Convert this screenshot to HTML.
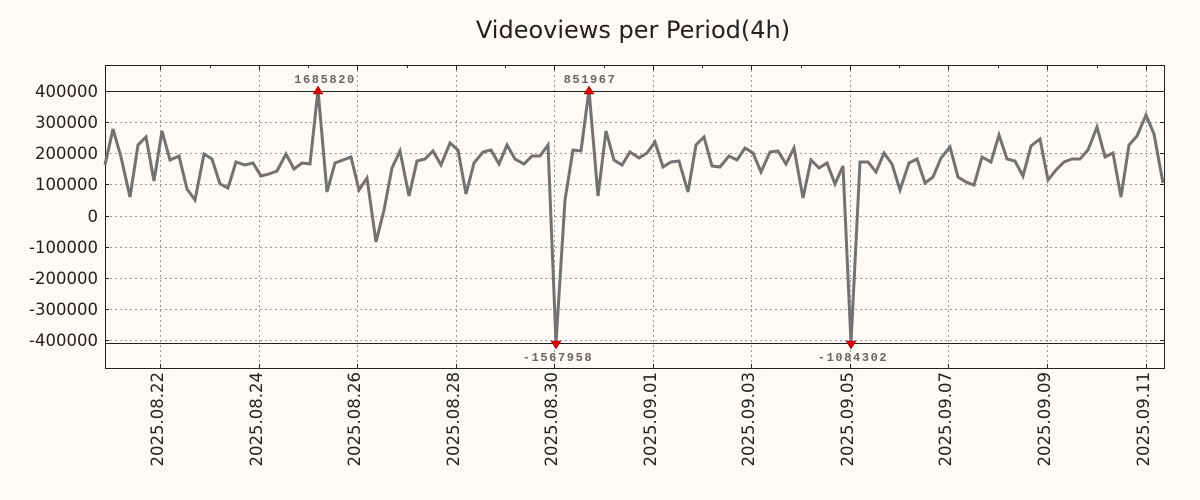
<!DOCTYPE html>
<html><head><meta charset="utf-8"><style>
body{margin:0;background:#fffaf5;}
svg{display:block;font-family:"DejaVu Sans","Liberation Sans",sans-serif;}
</style></head><body>
<svg width="1200" height="500" viewBox="0 0 1200 500">
<rect width="1200" height="500" fill="#fffaf5"/>
<text x="633" y="38" font-size="24" text-anchor="middle" fill="#222">Videoviews per Period(4h)</text>
<g stroke="#999" stroke-width="1" stroke-dasharray="2,3" fill="none">
<path d="M105 91.5H1164M105 122.5H1164M105 153.5H1164M105 184.5H1164M105 216.5H1164M105 247.5H1164M105 278.5H1164M105 309.5H1164M105 340.5H1164"/>
<path d="M160.5 65V368M259.5 65V368M357.5 65V368M456.5 65V368M554.5 65V368M653.5 65V368M751.5 65V368M850.5 65V368M948.5 65V368M1047.5 65V368M1146.5 65V368"/>
</g>
<g stroke="#222" stroke-width="1">
<path d="M105 91.5H1164M105 343.5H1164"/>
<path d="M160.5 65v5M259.5 65v5M357.5 65v5M456.5 65v5M554.5 65v5M653.5 65v5M751.5 65v5M850.5 65v5M948.5 65v5M1047.5 65v5M1146.5 65v5"/>
<path d="M210.5 65v3M308.5 65v3M407.5 65v3M505.5 65v3M604.5 65v3M702.5 65v3M801.5 65v3M899.5 65v3M998.5 65v3M1097.5 65v3"/>
<path d="M1164 91.5h-4M1164 122.5h-4M1164 153.5h-4M1164 184.5h-4M1164 216.5h-4M1164 247.5h-4M1164 278.5h-4M1164 309.5h-4M1164 340.5h-4"/>
<path d="M105 91.5h4M105 122.5h4M105 153.5h4M105 184.5h4M105 216.5h4M105 247.5h4M105 278.5h4M105 309.5h4M105 340.5h4"/>
<path d="M160.5 368v-4M259.5 368v-4M357.5 368v-4M456.5 368v-4M554.5 368v-4M653.5 368v-4M751.5 368v-4M850.5 368v-4M948.5 368v-4M1047.5 368v-4M1146.5 368v-4"/>
</g>
<rect x="105.5" y="65.5" width="1059" height="303" fill="none" stroke="#222" stroke-width="1"/>
<g font-size="16.5" fill="#222" text-anchor="end">
<text x="98" y="97">400000</text><text x="98" y="128">300000</text><text x="98" y="159">200000</text><text x="98" y="190">100000</text><text x="98" y="222">0</text><text x="98" y="253">-100000</text><text x="98" y="284">-200000</text><text x="98" y="315">-300000</text><text x="98" y="346">-400000</text>
</g>
<g font-size="16.5" fill="#222" text-anchor="end">
<text transform="translate(163,372) rotate(-90)">2025.08.22</text>
<text transform="translate(262,372) rotate(-90)">2025.08.24</text>
<text transform="translate(360,372) rotate(-90)">2025.08.26</text>
<text transform="translate(459,372) rotate(-90)">2025.08.28</text>
<text transform="translate(557,372) rotate(-90)">2025.08.30</text>
<text transform="translate(656,372) rotate(-90)">2025.09.01</text>
<text transform="translate(754,372) rotate(-90)">2025.09.03</text>
<text transform="translate(853,372) rotate(-90)">2025.09.05</text>
<text transform="translate(951,372) rotate(-90)">2025.09.07</text>
<text transform="translate(1050,372) rotate(-90)">2025.09.09</text>
<text transform="translate(1149,372) rotate(-90)">2025.09.11</text>
</g>
<polyline fill="none" stroke="#727272" stroke-width="3" stroke-linejoin="miter" points="105,165 113,129 121,157 130,197 138,145 146,137 154,181 162,131 170,160 179,156 187,189 195,200 204,154 212,159 220,184 228,188 236,162 245,165 253,163 261,176 269,174 277,171 286,154 294,169 302,163 310,164 318,90 327,192 335,163 343,160 351,157 359,190 367,178 376,242 384,210 392,168 400,151 409,196 417,161 425,159 433,151 441,165 450,143 458,150 466,194 474,163 483,152 491,150 499,164 507,145 515,159 524,164 532,156 540,156 548,145 556,343 565,200 573,150 581,151 589,90 598,196 606,131 614,160 622,165 630,152 639,158 647,153 655,142 663,167 671,162 679,161 688,192 696,145 704,137 712,166 720,167 729,156 737,160 745,148 753,153 761,172 770,152 778,151 786,164 794,148 803,198 811,160 819,168 827,163 835,184 843,166 851,343 860,162 868,162 876,172 884,153 892,164 900,190 909,163 917,159 925,183 933,177 941,158 950,147 958,177 966,182 974,185 982,157 991,162 999,135 1007,159 1015,161 1023,176 1031,146 1040,139 1048,180 1056,170 1064,162 1072,159 1080,159 1088,150 1097,127 1105,157 1113,153 1121,197 1129,145 1137,136 1146,115 1154,134 1163,183"/>
<g fill="#e00000" stroke="#900" stroke-width="0.5">
<path d="M313 94L318 86L323 94Z"/><path d="M584 94L589 86L594 94Z"/>
<path d="M551 341L556 349L561 341Z"/><path d="M846 341L851 349L856 341Z"/>
</g>
<g font-family="'Liberation Mono',monospace" font-size="12" font-weight="bold" fill="#666" text-anchor="middle" letter-spacing="1.6">
<text x="325" y="83">1685820</text><text x="590" y="83">851967</text>
<text x="558" y="361">-1567958</text><text x="853" y="361">-1084302</text>
</g>
</svg>
</body></html>
